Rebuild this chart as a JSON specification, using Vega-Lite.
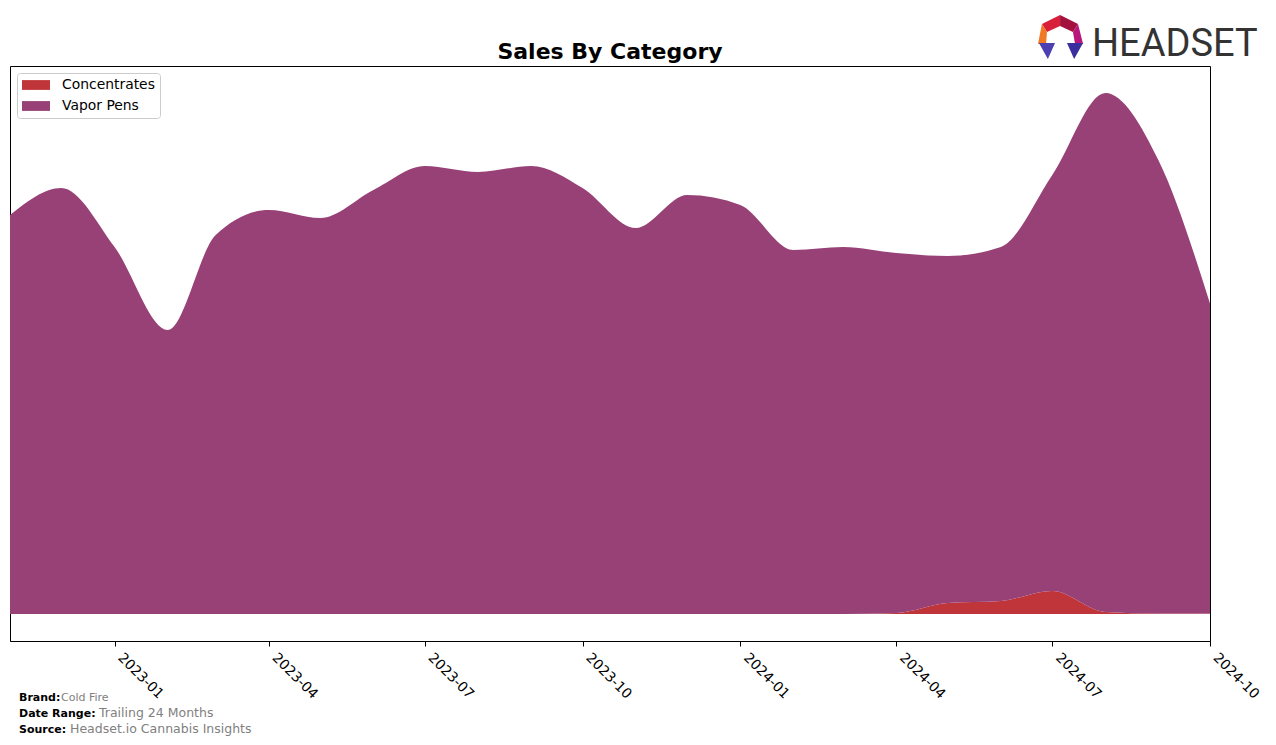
{
  "$schema": "https://vega.github.io/schema/vega-lite/v6.json",
  "width": 1200,
  "height": 575,
  "autosize": {"type": "none"},
  "padding": {"left": 10, "top": 66, "right": 66, "bottom": 104},
  "background": "white",
  "config": {"font": "DejaVu Sans", "view": {"stroke": "black", "strokeWidth": 1}},
  "title": {"text": "Sales By Category", "fontSize": 22, "fontWeight": "bold", "color": "black", "offset": 6, "dy": 55, "anchor": "middle"},
  "layer": [
    {
      "data": {"values": [
        {"month": "2022-11-01", "category": "Concentrates", "sales": 0},
        {"month": "2022-12-01", "category": "Concentrates", "sales": 0},
        {"month": "2023-01-01", "category": "Concentrates", "sales": 0},
        {"month": "2023-02-01", "category": "Concentrates", "sales": 0},
        {"month": "2023-03-01", "category": "Concentrates", "sales": 0},
        {"month": "2023-04-01", "category": "Concentrates", "sales": 0},
        {"month": "2023-05-01", "category": "Concentrates", "sales": 0},
        {"month": "2023-06-01", "category": "Concentrates", "sales": 0},
        {"month": "2023-07-01", "category": "Concentrates", "sales": 0},
        {"month": "2023-08-01", "category": "Concentrates", "sales": 0},
        {"month": "2023-09-01", "category": "Concentrates", "sales": 0},
        {"month": "2023-10-01", "category": "Concentrates", "sales": 0},
        {"month": "2023-11-01", "category": "Concentrates", "sales": 0},
        {"month": "2023-12-01", "category": "Concentrates", "sales": 0},
        {"month": "2024-01-01", "category": "Concentrates", "sales": 0},
        {"month": "2024-02-01", "category": "Concentrates", "sales": 0},
        {"month": "2024-03-01", "category": "Concentrates", "sales": 0},
        {"month": "2024-04-01", "category": "Concentrates", "sales": 1},
        {"month": "2024-05-01", "category": "Concentrates", "sales": 11},
        {"month": "2024-06-01", "category": "Concentrates", "sales": 13},
        {"month": "2024-07-01", "category": "Concentrates", "sales": 23},
        {"month": "2024-08-01", "category": "Concentrates", "sales": 2},
        {"month": "2024-09-01", "category": "Concentrates", "sales": 0.5},
        {"month": "2024-10-01", "category": "Concentrates", "sales": 0.5},
        {"month": "2022-11-01", "category": "Vapor Pens", "sales": 399},
        {"month": "2022-12-01", "category": "Vapor Pens", "sales": 426},
        {"month": "2023-01-01", "category": "Vapor Pens", "sales": 367},
        {"month": "2023-02-01", "category": "Vapor Pens", "sales": 284},
        {"month": "2023-03-01", "category": "Vapor Pens", "sales": 379},
        {"month": "2023-04-01", "category": "Vapor Pens", "sales": 404},
        {"month": "2023-05-01", "category": "Vapor Pens", "sales": 396},
        {"month": "2023-06-01", "category": "Vapor Pens", "sales": 424},
        {"month": "2023-07-01", "category": "Vapor Pens", "sales": 448},
        {"month": "2023-08-01", "category": "Vapor Pens", "sales": 442},
        {"month": "2023-09-01", "category": "Vapor Pens", "sales": 448},
        {"month": "2023-10-01", "category": "Vapor Pens", "sales": 426},
        {"month": "2023-11-01", "category": "Vapor Pens", "sales": 386},
        {"month": "2023-12-01", "category": "Vapor Pens", "sales": 419},
        {"month": "2024-01-01", "category": "Vapor Pens", "sales": 409},
        {"month": "2024-02-01", "category": "Vapor Pens", "sales": 364},
        {"month": "2024-03-01", "category": "Vapor Pens", "sales": 367},
        {"month": "2024-04-01", "category": "Vapor Pens", "sales": 360},
        {"month": "2024-05-01", "category": "Vapor Pens", "sales": 347},
        {"month": "2024-06-01", "category": "Vapor Pens", "sales": 354},
        {"month": "2024-07-01", "category": "Vapor Pens", "sales": 416},
        {"month": "2024-08-01", "category": "Vapor Pens", "sales": 519},
        {"month": "2024-09-01", "category": "Vapor Pens", "sales": 453},
        {"month": "2024-10-01", "category": "Vapor Pens", "sales": 310}
      ]},
      "mark": {"type": "area", "interpolate": "monotone"},
      "encoding": {
        "x": {
          "field": "month", "type": "temporal",
          "scale": {"type": "utc", "domain": [{"year": 2022, "month": 11, "date": 1, "utc": true}, {"year": 2024, "month": 10, "date": 1, "utc": true}]},
          "axis": {
            "title": null, "grid": false, "format": "%Y-%m",
            "values": [
              {"year": 2023, "month": 1, "date": 1, "utc": true},
              {"year": 2023, "month": 4, "date": 1, "utc": true},
              {"year": 2023, "month": 7, "date": 1, "utc": true},
              {"year": 2023, "month": 10, "date": 1, "utc": true},
              {"year": 2024, "month": 1, "date": 1, "utc": true},
              {"year": 2024, "month": 4, "date": 1, "utc": true},
              {"year": 2024, "month": 7, "date": 1, "utc": true},
              {"year": 2024, "month": 10, "date": 1, "utc": true}
            ],
            "labelAngle": 45, "labelAlign": "left", "labelBaseline": "bottom",
            "labelFontSize": 13.9, "labelColor": "black", "labelPadding": 14,
            "tickSize": 5, "tickColor": "black", "domainColor": "black", "labelFlush": false, "labelOverlap": false
          }
        },
        "y": {
          "field": "sales", "type": "quantitative", "stack": "zero",
          "scale": {"domain": [-27, 548], "nice": false, "zero": false},
          "axis": null
        },
        "color": {
          "field": "category", "type": "nominal",
          "scale": {"domain": ["Concentrates", "Vapor Pens"], "range": ["#c0353a", "#974177"]},
          "legend": {
            "orient": "none", "legendX": 7, "legendY": 7, "title": null,
            "symbolType": "M-1,-0.7L3,-0.7L3,0.7L-1,0.7Z", "symbolSize": 196,
            "symbolStrokeWidth": 0, "symbolOpacity": 1,
            "labelFontSize": 13.9, "labelColor": "black", "labelOffset": 26,
            "fillColor": "white", "strokeColor": "#cccccc", "cornerRadius": 3,
            "padding": 5, "rowPadding": 7
          }
        },
        "order": {"field": "category", "sort": "ascending"}
      }
    },
    {
      "data": {"values": [{}]},
      "mark": {"type": "text", "text": "Brand:", "fontWeight": "bold", "fontSize": 11, "align": "left", "baseline": "alphabetic", "color": "black"},
      "encoding": {"x": {"value": 9}, "y": {"value": 635}}
    },
    {
      "data": {"values": [{}]},
      "mark": {"type": "text", "text": "Cold Fire", "fontSize": 11, "align": "left", "baseline": "alphabetic", "color": "#808080"},
      "encoding": {"x": {"value": 51}, "y": {"value": 635}}
    },
    {
      "data": {"values": [{}]},
      "mark": {"type": "text", "text": "Date Range:", "fontWeight": "bold", "fontSize": 11, "align": "left", "baseline": "alphabetic", "color": "black"},
      "encoding": {"x": {"value": 9}, "y": {"value": 651}}
    },
    {
      "data": {"values": [{}]},
      "mark": {"type": "text", "text": "Trailing 24 Months", "fontSize": 12.5, "align": "left", "baseline": "alphabetic", "color": "#808080"},
      "encoding": {"x": {"value": 89}, "y": {"value": 651}}
    },
    {
      "data": {"values": [{}]},
      "mark": {"type": "text", "text": "Source:", "fontWeight": "bold", "fontSize": 11, "align": "left", "baseline": "alphabetic", "color": "black"},
      "encoding": {"x": {"value": 9}, "y": {"value": 667}}
    },
    {
      "data": {"values": [{}]},
      "mark": {"type": "text", "text": "Headset.io Cannabis Insights", "fontSize": 12.5, "align": "left", "baseline": "alphabetic", "color": "#808080"},
      "encoding": {"x": {"value": 60}, "y": {"value": 667}}
    },
    {
      "data": {"values": [{}]},
      "mark": {"type": "text", "text": "HEADSET", "font": "Roboto", "fontSize": 38, "align": "left", "baseline": "alphabetic", "color": "#333333"},
      "encoding": {"x": {"value": 1082}, "y": {"value": -10}}
    },
    {
      "data": {"values": [{}]},
      "mark": {"type": "point", "filled": true, "opacity": 1, "strokeWidth": 0, "color": "#d8203a", "size": 2116, "shape": "M-0.04,-0.96L-0.83,-0.57L-0.61,-0.22L-0.04,-0.48Z"},
      "encoding": {"x": {"value": 1051}, "y": {"value": -29}}
    },
    {
      "data": {"values": [{}]},
      "mark": {"type": "point", "filled": true, "opacity": 1, "strokeWidth": 0, "color": "#a3123e", "size": 2116, "shape": "M-0.04,-0.96L0.74,-0.57L0.52,-0.22L-0.04,-0.48Z"},
      "encoding": {"x": {"value": 1051}, "y": {"value": -29}}
    },
    {
      "data": {"values": [{}]},
      "mark": {"type": "point", "filled": true, "opacity": 1, "strokeWidth": 0, "color": "#f07a22", "size": 2116, "shape": "M-0.83,-0.57L-1,0.3L-0.65,0.3L-0.61,-0.22Z"},
      "encoding": {"x": {"value": 1051}, "y": {"value": -29}}
    },
    {
      "data": {"values": [{}]},
      "mark": {"type": "point", "filled": true, "opacity": 1, "strokeWidth": 0, "color": "#b8177c", "size": 2116, "shape": "M0.74,-0.57L0.96,0.3L0.61,0.3L0.52,-0.22Z"},
      "encoding": {"x": {"value": 1051}, "y": {"value": -29}}
    },
    {
      "data": {"values": [{}]},
      "mark": {"type": "point", "filled": true, "opacity": 1, "strokeWidth": 0, "color": "#4b3fb2", "size": 2116, "shape": "M-0.96,0.26L-0.26,0.26L-0.57,0.96Z"},
      "encoding": {"x": {"value": 1051}, "y": {"value": -29}}
    },
    {
      "data": {"values": [{}]},
      "mark": {"type": "point", "filled": true, "opacity": 1, "strokeWidth": 0, "color": "#3a2f9c", "size": 2116, "shape": "M0.26,0.26L0.96,0.26L0.57,0.96Z"},
      "encoding": {"x": {"value": 1051}, "y": {"value": -29}}
    }
  ]
}
